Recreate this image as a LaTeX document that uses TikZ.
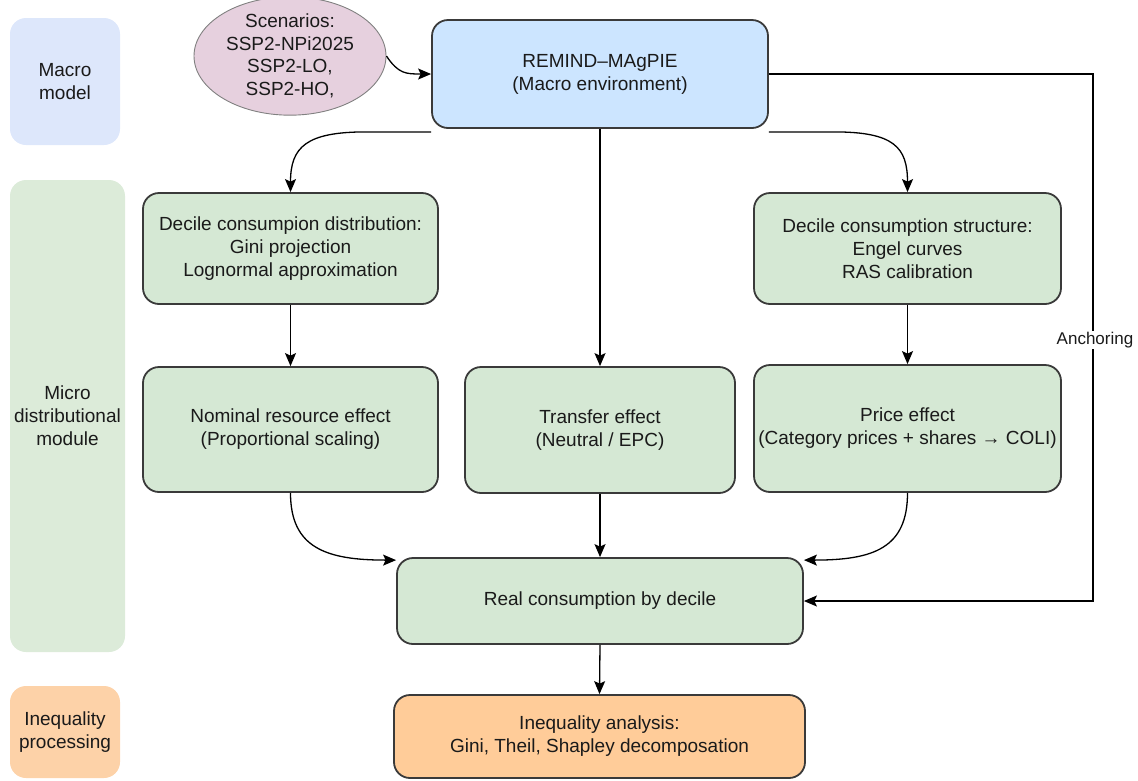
\documentclass[tikz,border=0pt]{standalone}
\usepackage{fontspec}
\setmainfont{Liberation Sans}
\usetikzlibrary{arrows.meta,shapes.geometric}
\definecolor{laneblue}{HTML}{DDE7FB}
\definecolor{lanegreen}{HTML}{DCEBD9}
\definecolor{laneorange}{HTML}{FDD2A8}
\definecolor{boxblue}{HTML}{CCE5FF}
\definecolor{boxgreen}{HTML}{D5E8D4}
\definecolor{boxorange}{HTML}{FFCC99}
\definecolor{scenpink}{HTML}{E6D0DE}
\definecolor{bordergray}{HTML}{3A3A3A}
\definecolor{txt}{HTML}{1A1A1A}
\tikzset{
  lane/.style={rounded corners=16pt, draw=none, align=center, text=txt,
    font=\fontsize{19}{23}\selectfont, inner sep=0pt},
  box/.style={rounded corners=16pt, draw=bordergray, line width=1.8pt, align=center,
    text=txt, font=\fontsize{19}{23}\selectfont, inner sep=0pt},
  arr/.style={line width=1.3pt, -{Stealth[length=13pt,width=11pt,inset=2.5pt]}},
}
\begin{document}
\begin{tikzpicture}[x=1pt,y=-1pt]
\useasboundingbox (0,0) rectangle (1138,780);
% lanes
\node[lane, fill=laneblue, minimum width=110pt, minimum height=127pt] (lmacro) at (65,81.5) {Macro\\model};
\node[lane, fill=lanegreen, minimum width=115pt, minimum height=472pt] (lmicro) at (67.5,416) {Micro\\distributional\\module};
\node[lane, fill=laneorange, minimum width=110pt, minimum height=92pt] (lineq) at (65,732) {Inequality\\processing};
% nodes
\node[ellipse, draw=gray, line width=0.9pt, fill=scenpink, minimum width=192pt, minimum height=100pt,
  inner sep=0pt, align=center, text=txt, font=\fontsize{19}{22.5}\selectfont] (scen) at (290,56)
  {Scenarios:\\SSP2-NPi2025\\SSP2-LO,\\SSP2-HO,};
\node[box, fill=boxblue, minimum width=336pt, minimum height=108pt] (remind) at (600,74)
  {REMIND–MAgPIE\\(Macro environment)};
\node[box, fill=boxgreen, minimum width=295pt, minimum height=111pt] (ddist) at (290.5,248.5)
  {Decile consumpion distribution:\\Gini projection\\Lognormal approximation};
\node[box, fill=boxgreen, minimum width=307pt, minimum height=111pt] (dstruct) at (907.5,248.5)
  {Decile consumption structure:\\Engel curves\\RAS calibration};
\node[box, fill=boxgreen, minimum width=295pt, minimum height=125pt] (nominal) at (290.5,429.5)
  {Nominal resource effect\\(Proportional scaling)};
\node[box, fill=boxgreen, minimum width=270pt, minimum height=126pt] (transfer) at (600,430)
  {Transfer effect\\(Neutral / EPC)};
\node[box, fill=boxgreen, minimum width=307pt, minimum height=127pt] (price) at (907.5,428.5)
  {Price effect\\(Category prices + shares → COLI)};
\node[box, fill=boxgreen, minimum width=406pt, minimum height=86pt] (real) at (600,601)
  {Real consumption by decile};
\node[box, fill=boxorange, minimum width=411pt, minimum height=83pt] (ineq) at (599.5,736.5)
  {Inequality analysis:\\Gini, Theil, Shapley decomposation};
% connectors
\draw[arr] (scen.east) .. controls +(12,18) and +(-25,0) .. (remind.west);
\draw[arr] ([yshift=-3pt]remind.south west) -- ++(-65,0) .. controls +(-60,0) and +(0,-45) .. (ddist.north);
\draw[arr] ([yshift=-3pt]remind.south east) -- ++(65,0) .. controls +(60,0) and +(0,-45) .. (dstruct.north);
\draw[arr] (remind.south) -- (transfer.north);
\draw[arr] (ddist.south) -- (nominal.north);
\draw[arr] (dstruct.south) -- (price.north);
\draw[arr] (nominal.south) .. controls +(0,55) and +(-70,0) .. ([yshift=-3pt]real.north west);
\draw[arr] (price.south) .. controls +(0,55) and +(70,0) .. ([yshift=-3pt]real.north east);
\draw[arr] (transfer.south) -- (real.north);
\draw[arr] (real.south) -- (ineq.north);
\coordinate (anc) at (1093,74);
\draw[arr] (remind.east) -- (anc) |- (real.east);
\node[fill=white, inner sep=1pt, text=txt, font=\fontsize{17}{20}\selectfont] (anclabel) at (1095,340) {Anchoring};
\end{tikzpicture}
\end{document}
